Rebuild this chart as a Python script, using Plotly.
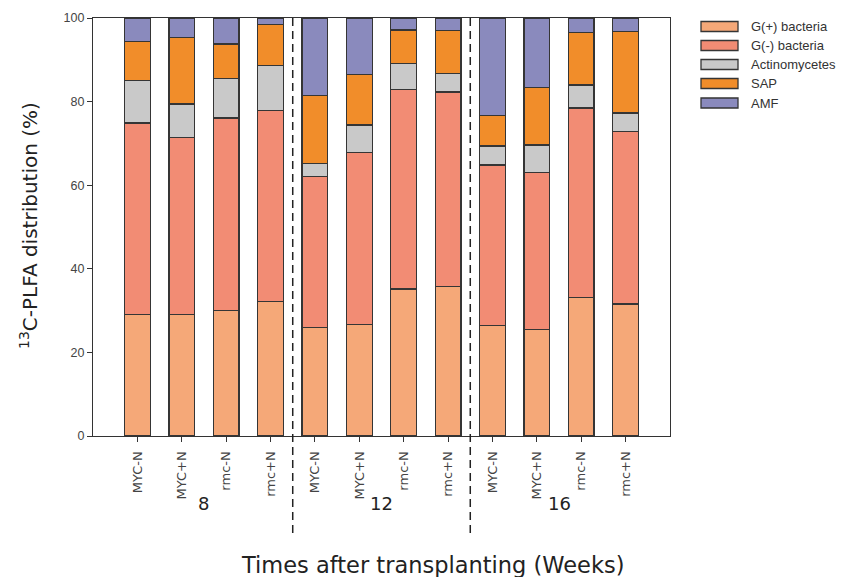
import plotly.graph_objects as go

# Sampling weeks and treatments (4 treatments per week)
weeks = ["8", "12", "16"]
treatments = ["MYC-N", "MYC+N", "rmc-N", "rmc+N"]

# 13C-PLFA distribution (%) per microbial group, one value per bar
g_pos = [29.0, 29.0, 30.0, 32.1, 26.0, 26.6, 35.2, 35.8, 26.5, 25.4, 33.2, 31.6]
g_neg = [45.9, 42.4, 46.1, 45.8, 36.0, 41.2, 47.7, 46.5, 38.3, 37.7, 45.3, 41.2]
actino = [10.1, 8.0, 9.4, 10.7, 3.2, 6.6, 6.2, 4.5, 4.6, 6.5, 5.5, 4.5]
sap = [9.4, 16.0, 8.3, 9.8, 16.2, 12.1, 8.0, 10.2, 7.2, 13.8, 12.6, 19.5]
amf = [5.6, 4.6, 6.2, 1.6, 18.6, 13.5, 2.9, 3.0, 23.4, 16.6, 3.4, 3.2]

series_names = ["G(+) bacteria", "G(-) bacteria", "Actinomycetes", "SAP", "AMF"]
series_values = [g_pos, g_neg, actino, sap, amf]
series_colors = ["#F5A878", "#F28C74", "#C9C9C9", "#F18D2A", "#8A8ABD"]

tick_text = [t for _ in weeks for t in treatments]
x_pos = list(range(len(tick_text)))

FONT = "Liberation Sans, Arial, sans-serif"
WIDE = "DejaVu Sans, Verdana, sans-serif"
EDGE = "#353535"

fig = go.Figure()
for name, vals, col in zip(series_names, series_values, series_colors):
    fig.add_trace(go.Bar(
        x=x_pos, y=vals, name=name, width=0.58,
        marker=dict(color=col, line=dict(color=EDGE, width=1.3)),
        showlegend=False,
    ))

# Plot area geometry in pixels (for paper-coordinate annotations)
W, H = 855, 577
L, R, T, B = 93, 670, 18, 436
pw, ph = R - L, B - T


def px_x(x):
    return (x - L) / pw


def px_y(y):
    return (B - y) / ph


shapes = []
annotations = []

# Dashed separators between weeks
n_per = len(treatments)
for k in range(1, len(weeks)):
    sep = k * n_per - 0.5
    shapes.append(dict(type="line", xref="x", yref="paper", x0=sep, x1=sep,
                       y0=1, y1=px_y(537),
                       line=dict(color="#222222", width=1.5, dash="8px,5px")))

# Week labels under each group
for k, w in enumerate(weeks):
    centre = k * n_per + (n_per - 1) / 2
    annotations.append(dict(x=centre, y=px_y(503), xref="x", yref="paper",
                            text=w, showarrow=False,
                            font=dict(family=WIDE, size=18, color="#222222"),
                            xanchor="center", yanchor="middle"))

# Axis titles
annotations.append(dict(x=px_x(432), y=px_y(565), xref="paper", yref="paper",
                        text="Times after transplanting (Weeks)", showarrow=False,
                        font=dict(family=WIDE, size=22.5, color="#222222"),
                        xanchor="center", yanchor="middle"))
annotations.append(dict(x=px_x(29), y=px_y(226), xref="paper", yref="paper",
                        text="<sup>13</sup>C-PLFA distribution (%)", showarrow=False,
                        textangle=-90,
                        font=dict(family=WIDE, size=20, color="#222222"),
                        xanchor="center", yanchor="middle"))

# Legend with wide swatches
row_y = [26.5, 45.5, 64.5, 83.5, 103]
for name, col, yc in zip(series_names, series_colors, row_y):
    shapes.append(dict(type="rect", xref="paper", yref="paper",
                       x0=px_x(701), x1=px_x(738),
                       y0=px_y(yc + 5), y1=px_y(yc - 5),
                       fillcolor=col, line=dict(color=EDGE, width=1.3)))
    annotations.append(dict(x=px_x(749), y=px_y(yc), xref="paper", yref="paper",
                            text=name, showarrow=False,
                            font=dict(family=FONT, size=13, color="#333333"),
                            xanchor="left", yanchor="middle"))

fig.update_layout(
    width=W, height=H,
    margin=dict(l=L, r=W - R, t=T, b=H - B, pad=0),
    paper_bgcolor="white", plot_bgcolor="white",
    barmode="stack", bargap=0.4,
    shapes=shapes, annotations=annotations,
    font=dict(family=FONT, color="#333333"),
    xaxis=dict(range=[-1, len(tick_text)], tickmode="array", tickvals=x_pos,
               ticktext=tick_text, tickangle=-90, ticks="outside", ticklen=5,
               ticklabelstandoff=4,
               tickcolor="#333333", tickfont=dict(family=WIDE, size=13, color="#444444"),
               showline=True, linecolor="#333333", linewidth=1.2, mirror=True,
               showgrid=False, zeroline=False),
    yaxis=dict(range=[0, 100], tickmode="array", tickvals=[0, 20, 40, 60, 80, 100],
               ticks="outside", ticklen=5, tickcolor="#333333",
               tickfont=dict(family=FONT, size=12.5, color="#444444"),
               showline=True, linecolor="#333333", linewidth=1.2, mirror=True,
               showgrid=False, zeroline=False),
)

fig.write_html("out.html")
